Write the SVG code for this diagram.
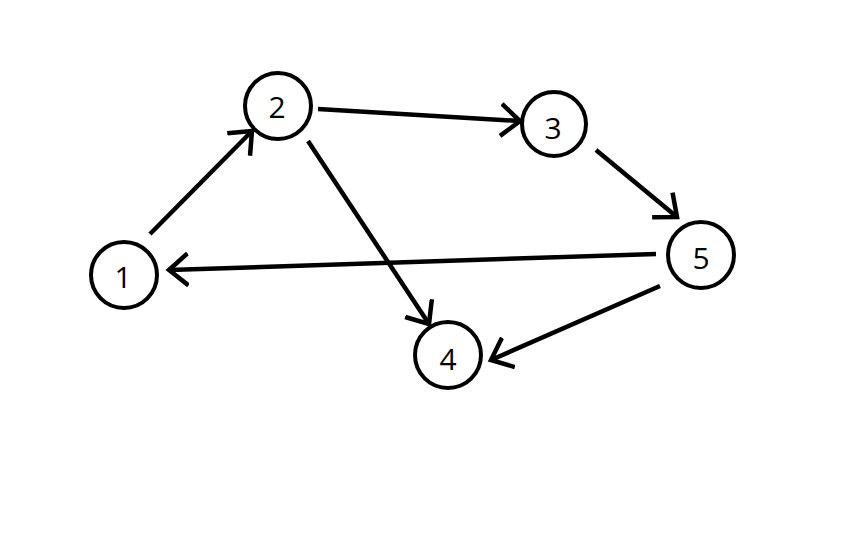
<svg xmlns="http://www.w3.org/2000/svg" width="864" height="540" viewBox="0 0 864 540">
<style>
.node circle{fill:#fff;stroke:#000;stroke-width:4}
.node text{font-family:"Open Sans","Noto Sans","DejaVu Sans",sans-serif;font-size:30px;fill:#000;text-anchor:middle;dominant-baseline:central}
.edge{fill:none;stroke:#000;stroke-width:4.5;stroke-linecap:butt;marker-end:url(#arr)}
</style>
<defs>
<marker id="arr" markerUnits="userSpaceOnUse" markerWidth="40" markerHeight="40" refX="20" refY="20" orient="auto" viewBox="0 0 40 40">
<path d="M1,4 L20,20 L1,36" fill="none" stroke="#000" stroke-width="4.5" stroke-linejoin="miter"/>
</marker>
</defs>
<rect width="864" height="540" fill="#fff"/>
<g id="connectors">
<line class="edge" x1="150" y1="234" x2="252" y2="131"/>
<line class="edge" x1="318" y1="109" x2="520" y2="121"/>
<line class="edge" x1="308" y1="141" x2="429" y2="324"/>
<line class="edge" x1="596" y1="150" x2="677" y2="217"/>
<line class="edge" x1="656" y1="254" x2="169" y2="270"/>
<line class="edge" x1="660" y1="286" x2="491" y2="360"/>
</g>
<g id="node1" class="node"><circle cx="124" cy="275" r="33"/><text x="123" y="276">1</text></g>
<g id="node2" class="node"><circle cx="278" cy="106" r="33"/><text x="277" y="106">2</text></g>
<g id="node3" class="node"><circle cx="554" cy="124" r="32"/><text x="553" y="127">3</text></g>
<g id="node4" class="node"><circle cx="448" cy="355" r="33"/><text x="448" y="358">4</text></g>
<g id="node5" class="node"><circle cx="701" cy="255" r="33"/><text x="701" y="257">5</text></g>
</svg>
